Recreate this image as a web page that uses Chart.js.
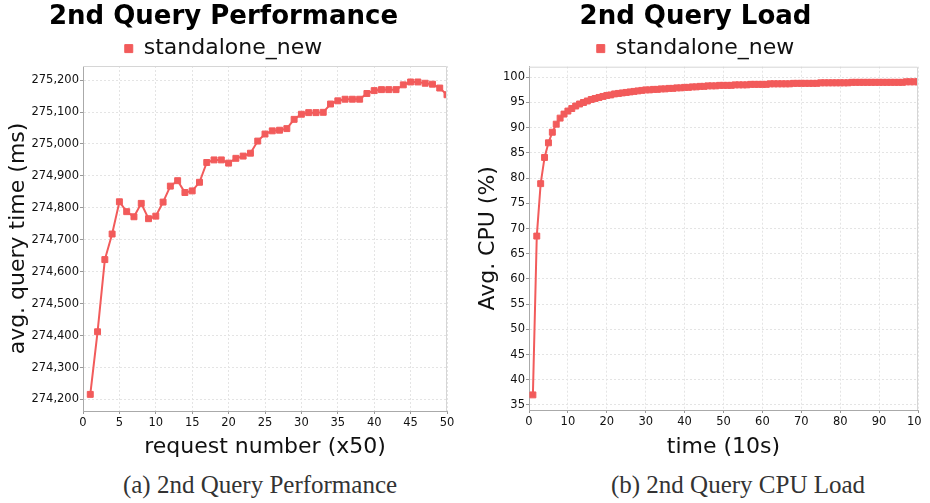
<!DOCTYPE html>
<html>
<head>
<meta charset="utf-8">
<script src="https://cdn.jsdelivr.net/npm/chart.js@4.4.1/dist/chart.umd.min.js"></script>
<style>
  html, body { margin: 0; padding: 0; background: #fff; }
  body { width: 930px; height: 503px; position: relative; overflow: hidden; }
  .panel { position: absolute; top: 0; overflow: hidden; height: 460px; }
  #leftPanel { left: 0; width: 465px; }
  #rightPanel { left: 465px; width: 456px; }
  .caption {
    position: absolute; top: 471px; font-family: "Liberation Serif", serif;
    font-size: 25px; color: #333; white-space: nowrap; transform: translateX(-50%);
  }
</style>
</head>
<body>
<div class="panel" id="leftPanel"><canvas id="perfChart" width="465" height="460"></canvas></div>
<div class="panel" id="rightPanel"><canvas id="loadChart" width="480" height="460"></canvas></div>
<div class="caption" style="left:260px">(a) 2nd Query Performance</div>
<div class="caption" style="left:738px">(b) 2nd Query CPU Load</div>
<script>
// Data
const seriesName = 'standalone_new';

const requestNumbers = [1, 2, 3, 4, 5, 6, 7, 8, 9, 10,
  11, 12, 13, 14, 15, 16, 17, 18, 19, 20,
  21, 22, 23, 24, 25, 26, 27, 28, 29, 30,
  31, 32, 33, 34, 35, 36, 37, 38, 39, 40,
  41, 42, 43, 44, 45, 46, 47, 48, 49, 50];
const queryTimes = [274216, 274412, 274638, 274718, 274819, 274788, 274772, 274814, 274766, 274774,
  274818, 274868, 274885, 274848, 274853, 274880, 274942, 274950, 274950, 274940,
  274955, 274962, 274971, 275009, 275031, 275041, 275043, 275048, 275077, 275093,
  275098, 275098, 275099, 275125, 275135, 275140, 275140, 275140, 275158, 275167,
  275170, 275170, 275170, 275185, 275194, 275194, 275190, 275187, 275175, 275154];
const perfYTicks = [274200, 274300, 274400, 274500, 274600, 274700, 274800, 274900, 275000, 275100, 275200];
const perfXTicks = [0, 5, 10, 15, 20, 25, 30, 35, 40, 45, 50];

const timeSteps = [1, 2, 3, 4, 5, 6, 7, 8, 9, 10,
  11, 12, 13, 14, 15, 16, 17, 18, 19, 20,
  21, 22, 23, 24, 25, 26, 27, 28, 29, 30,
  31, 32, 33, 34, 35, 36, 37, 38, 39, 40,
  41, 42, 43, 44, 45, 46, 47, 48, 49, 50,
  51, 52, 53, 54, 55, 56, 57, 58, 59, 60,
  61, 62, 63, 64, 65, 66, 67, 68, 69, 70,
  71, 72, 73, 74, 75, 76, 77, 78, 79, 80,
  81, 82, 83, 84, 85, 86, 87, 88, 89, 90,
  91, 92, 93, 94, 95, 96, 97, 98, 99, 100];
const cpuLoad = [37.0, 68.5, 78.9, 84.1, 87.0, 89.1, 90.7, 91.9, 92.7, 93.3,
  93.8, 94.3, 94.7, 95.0, 95.3, 95.6, 95.8, 96.0, 96.2, 96.4,
  96.5, 96.7, 96.8, 96.9, 97.0, 97.1, 97.2, 97.3, 97.4, 97.5,
  97.5, 97.6, 97.6, 97.7, 97.7, 97.8, 97.8, 97.9, 97.9, 98.0,
  98.0, 98.1, 98.1, 98.2, 98.2, 98.3, 98.3, 98.3, 98.4, 98.4,
  98.4, 98.4, 98.5, 98.5, 98.5, 98.5, 98.6, 98.6, 98.6, 98.6,
  98.6, 98.7, 98.7, 98.7, 98.7, 98.7, 98.7, 98.8, 98.8, 98.8,
  98.8, 98.8, 98.8, 98.8, 98.9, 98.9, 98.9, 98.9, 98.9, 98.9,
  98.9, 98.9, 99.0, 99.0, 99.0, 99.0, 99.0, 99.0, 99.0, 99.0,
  99.0, 99.0, 99.0, 99.0, 99.0, 99.0, 99.1, 99.1, 99.1, 99.1];
const loadYTicks = [35, 40, 45, 50, 55, 60, 65, 70, 75, 80, 85, 90, 95, 100];
const loadXTicks = [0, 10, 20, 30, 40, 50, 60, 70, 80, 90, 100];

// Styling
const lineColor = '#f25b5b';
const fontFamily = '"DejaVu Sans", sans-serif';
Chart.defaults.font.family = fontFamily;
Chart.defaults.color = '#111';

// Light outline on top and right of plot area
const plotOutline = {
    id: 'plotOutline',
    afterDraw(chart) {
        const {ctx, chartArea: a} = chart;
        ctx.save();
        ctx.strokeStyle = '#d6d6d6';
        ctx.lineWidth = 1;
        ctx.beginPath();
        ctx.moveTo(a.left, a.top + 0.5);
        ctx.lineTo(a.right - 0.5, a.top + 0.5);
        ctx.lineTo(a.right - 0.5, a.bottom);
        ctx.stroke();
        ctx.restore();
    }
};

function makeChart(canvasId, o) {
    const points = o.xs.map((x, i) => ({x: x, y: o.ys[i]}));
    return new Chart(document.getElementById(canvasId), {
        type: 'line',
        data: {
            datasets: [{
                label: seriesName,
                data: points,
                borderColor: lineColor,
                backgroundColor: lineColor,
                borderWidth: 2,
                pointStyle: 'rect',
                pointRadius: o.pointRadius,
                pointBorderWidth: 1,
                tension: 0
            }]
        },
        options: {
            responsive: false,
            animation: false,
            devicePixelRatio: 1,
            layout: { padding: o.padding },
            plugins: {
                title: {
                    display: true,
                    text: o.title,
                    color: '#000',
                    font: { size: 26, weight: 'bold' },
                    padding: { top: 1.9, bottom: 0 }
                },
                legend: {
                    display: true,
                    maxHeight: o.legendHeight,
                    labels: {
                        usePointStyle: true,
                        boxWidth: 8,
                        boxHeight: 8,
                        padding: 4.5,
                        color: '#111',
                        font: { size: 22 }
                    }
                },
                tooltip: { enabled: false }
            },
            scales: {
                x: {
                    type: 'linear',
                    min: o.xMin, max: o.xMax,
                    afterBuildTicks: s => { s.ticks = o.xTicks.map(v => ({value: v})); },
                    afterFit: s => { s.height = o.xAxisHeight; },
                    ticks: { color: '#111', font: { size: 11.5 }, padding: 2, maxRotation: 0 },
                    grid: { color: '#e4e4e4', tickColor: '#999', tickLength: 3 },
                    border: { color: '#aaa', dash: [2, 2] },
                    title: {
                        display: true, text: o.xTitle, color: '#111',
                        font: { size: 22 }, padding: { top: 5.8, bottom: 0 }
                    }
                },
                y: {
                    type: 'linear',
                    min: o.yMin, max: o.yMax,
                    afterBuildTicks: s => { s.ticks = o.yTicks.map(v => ({value: v})); },
                    afterFit: s => { s.width = o.yAxisWidth; },
                    ticks: {
                        color: '#111', font: { size: 11.5 }, padding: 1,
                        callback: v => v.toLocaleString('en-US')
                    },
                    grid: { color: '#e4e4e4', tickColor: '#999', tickLength: 3 },
                    border: { color: '#aaa', dash: [2, 2] },
                    title: {
                        display: true, text: o.yTitle, color: '#111',
                        font: { size: 22 }, padding: { top: o.yTitlePad, bottom: 0 }
                    }
                }
            }
        },
        plugins: [plotOutline]
    });
}

makeChart('perfChart', {
    xs: requestNumbers, ys: queryTimes,
    title: '2nd Query Performance',
    xTitle: 'request number (x50)', yTitle: 'avg. query time (ms)',
    xMin: 0, xMax: 50, yMin: 274164, yMax: 275244,
    xTicks: perfXTicks, yTicks: perfYTicks,
    padding: { left: 0, right: 18, top: 0, bottom: 0 },
    yAxisWidth: 83, xAxisHeight: 49, yTitlePad: 5,
    legendHeight: 32.9, pointRadius: 4.2
});

makeChart('loadChart', {
    xs: timeSteps, ys: cpuLoad,
    title: '2nd Query Load',
    xTitle: 'time (10s)', yTitle: 'Avg. CPU (%)',
    xMin: 0, xMax: 100, yMin: 34, yMax: 102.1,
    xTicks: loadXTicks, yTicks: loadYTicks,
    padding: { left: 8, right: 27, top: 0, bottom: 0 },
    yAxisWidth: 56, xAxisHeight: 50, yTitlePad: 1.8,
    legendHeight: 33.6, pointRadius: 4.2
});
</script>
</body>
</html>
